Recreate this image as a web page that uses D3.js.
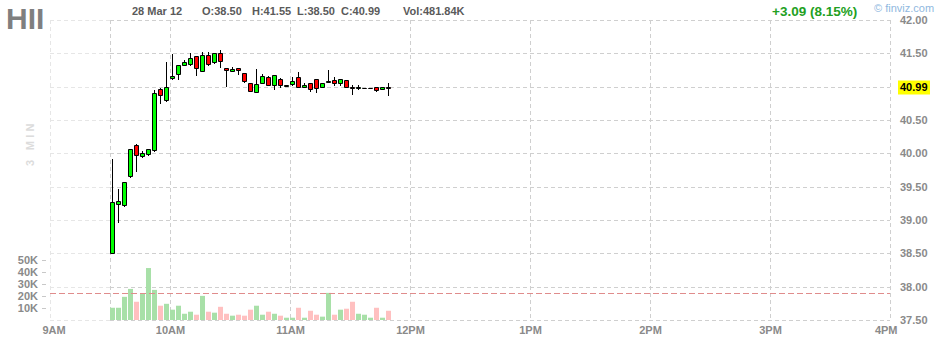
<!DOCTYPE html>
<html><head><meta charset="utf-8">
<script src="https://cdn.jsdelivr.net/npm/d3@7/dist/d3.min.js"></script>
<style>
body{margin:0;background:#fff}
svg{display:block;font-family:"Liberation Sans",Arial,Helvetica,sans-serif}
</style>
</head><body>
<svg id="c" width="940" height="340"></svg>
<script>
// ---------- data ----------
const ticker = "HII";
const intervalLabel = "3 MIN";
const dateLabel = "28 Mar 12";
const quoteLabels = ["O:38.50", "H:41.55", "L:38.50", "C:40.99"];
const volLabel = "Vol:481.84K";
const changeLabel = "+3.09 (8.15%)";
const brandLabel = "\u00a9 finviz.com";
const lastPrice = 40.99;
const prevClose = 37.90;

const times = ["9:30","9:33","9:36","9:39","9:42","9:45","9:48","9:51","9:54","9:57",
  "10:00","10:03","10:06","10:09","10:12","10:15","10:18","10:21","10:24","10:27",
  "10:30","10:33","10:36","10:39","10:42","10:45","10:48","10:51","10:54","10:57",
  "11:00","11:03","11:06","11:09","11:12","11:15","11:18","11:21","11:24","11:27",
  "11:30","11:33","11:36","11:39","11:42","11:45","11:48"];
const open  = [38.50,39.24,39.22,39.66,40.13,39.96,39.99,40.05,40.97,40.80,
  41.13,41.19,41.32,41.34,41.46,41.23,41.47,41.37,41.50,41.28,
  41.23,41.28,41.21,41.06,40.92,41.05,41.14,41.02,41.12,41.01,
  41.04,41.14,40.99,41.06,41.11,40.99,41.08,41.10,41.05,41.10,
  41.00,40.99,40.98,40.98,40.99,40.96,41.00];
const high  = [39.92,39.47,39.57,40.07,40.14,40.04,40.06,40.95,40.98,41.37,
  41.49,41.33,41.40,41.50,41.46,41.52,41.52,41.50,41.55,41.28,
  41.29,41.28,41.21,41.06,41.26,41.19,41.16,41.17,41.13,41.03,
  41.14,41.22,41.06,41.06,41.11,41.06,41.25,41.14,41.11,41.10,
  41.03,41.02,40.98,40.98,40.99,41.00,41.06];
const low   = [38.50,38.97,39.21,39.65,39.73,39.95,39.98,40.04,40.76,40.79,
  41.12,41.12,41.32,41.33,41.17,41.23,41.33,41.36,41.30,41.01,
  41.23,41.19,41.07,40.93,40.92,41.05,41.02,40.97,40.99,41.01,
  41.03,41.00,40.99,40.93,40.92,40.99,41.07,41.02,41.02,40.99,
  40.89,40.96,40.98,40.98,40.93,40.96,40.87];
const close = [39.27,39.28,39.57,40.06,39.97,40.01,40.06,40.91,40.87,41.00,
  41.16,41.32,41.37,41.43,41.28,41.47,41.34,41.50,41.38,41.25,
  41.27,41.25,41.08,40.93,41.04,41.16,41.02,41.17,41.02,41.03,
  41.09,41.00,41.03,40.96,40.98,41.06,41.09,41.05,41.11,40.99,
  40.98,41.00,40.98,40.98,40.95,40.99,40.99];
const volume = [10200,10200,19300,25900,15200,22100,43300,25100,11900,13500,
  8600,11900,5200,6900,4400,20100,6900,6100,11000,5200,
  3600,4400,3600,8600,11900,4400,6900,5200,3600,1900,
  1900,10200,1900,7700,4400,2800,22600,4400,8600,9400,
  15200,5200,4400,1900,10200,1900,7700];

const priceTicks = [37.5,38.0,38.5,39.0,39.5,40.0,40.5,41.0,41.5,42.0];
const hourTicks = ["9:00","10:00","11:00","12:00","13:00","14:00","15:00","16:00"];
const hourLabels = ["9AM","10AM","11AM","12PM","1PM","2PM","3PM","4PM"];
const openTime = "9:30";
const volTicks = [10000,20000,30000,40000,50000];

// ---------- setup ----------
const svg = d3.select("#c");
const parse = d3.timeParse("%H:%M");
const L = 50, R = 890, T = 20, B = 320;
const x = d3.scaleTime().domain([parse("9:00"), parse("16:00")]).range([L, R]);
const y = d3.scaleLinear().domain([37.5, 42]).range([B, T]);
const v = d3.scaleLinear().domain([0, 50000]).range([B, B - 60]);
const step = x(parse("9:33")) - x(parse("9:30"));
const bars = times.map((t, i) => ({t: parse(t), o: open[i], h: high[i], l: low[i], c: close[i], vol: volume[i]}));
const greyTxt = "#8a8a8a";
const sessionX = Math.round(x(parse(openTime)));

// ---------- grid ----------
const grid = svg.append("g").attr("fill", "none").attr("stroke-dasharray", "4,3");
priceTicks.forEach(p => {
  const yy = Math.round(y(p)) + 0.5;
  grid.append("line").attr("x1", L).attr("x2", sessionX).attr("y1", yy).attr("y2", yy).attr("stroke", "#e6e6e6");
  grid.append("line").attr("x1", sessionX).attr("x2", R).attr("y1", yy).attr("y2", yy).attr("stroke", "#cfcfcf");
});
[openTime].concat(hourTicks).forEach(h => {
  const xx = Math.round(x(parse(h))) + 0.5;
  grid.append("line").attr("x1", xx).attr("x2", xx).attr("y1", T).attr("y2", B)
    .attr("stroke", h === "9:00" ? "#e6e6e6" : "#cfcfcf");
});

// ---------- volume ----------
svg.append("g").selectAll("rect").data(bars).join("rect")
  .attr("x", d => Math.round(x(d.t)))
  .attr("width", Math.round(step) - 1)
  .attr("y", d => v(d.vol))
  .attr("height", d => B - v(d.vol))
  .attr("fill", d => d.c >= d.o ? "#a8e0a8" : "#ffc0c0");

// prev close line
svg.append("line").attr("x1", L).attr("x2", R)
  .attr("y1", Math.round(y(prevClose)) + 0.5).attr("y2", Math.round(y(prevClose)) + 0.5)
  .attr("stroke", "#e08c8c").attr("stroke-dasharray", "6,3");

// ---------- candles ----------
const cg = svg.append("g");
const cw = Math.round(step) - 2; // body inner width
bars.forEach(d => {
  const x0 = Math.round(x(d.t)) + 0.5;
  const xc = x0 + cw / 2;
  const yh = Math.round(y(d.h)), yl = Math.round(y(d.l));
  const yt = Math.round(y(Math.max(d.o, d.c))), yb = Math.round(y(Math.min(d.o, d.c)));
  cg.append("line").attr("x1", xc).attr("x2", xc).attr("y1", yh).attr("y2", yl + 1)
    .attr("stroke", "#000").attr("stroke-width", 1);
  const hgt = Math.max(yb - yt, d.o === d.c ? 0 : 1);
  cg.append("path")
    .attr("d", `M${x0},${yt + 0.5}h${cw}v${hgt}h${-cw}Z`)
    .attr("fill", d.c >= d.o ? "#00ff00" : "#ff0000")
    .attr("stroke", "#000").attr("stroke-width", 1);
});

// ---------- axes ----------
const ya = svg.append("g").attr("transform", `translate(${R},0)`)
  .call(d3.axisRight(y).tickValues(priceTicks).tickFormat(d3.format(".2f")).tickSize(0).tickPadding(10));
ya.select(".domain").remove();
ya.selectAll("text").attr("fill", greyTxt).attr("font-size", 11).attr("font-weight", "bold")
  .attr("font-family", "'Liberation Sans',Arial,sans-serif");

// last price badge
const ly = y(lastPrice);
svg.append("rect").attr("x", 898).attr("y", Math.round(ly) - 6.5).attr("width", 32).attr("height", 14).attr("fill", "#ffff00");
svg.append("text").attr("x", 900).attr("y", ly).attr("dy", "0.34em").attr("font-size", 11).attr("font-weight", "bold")
  .attr("fill", "#000").text(d3.format(".2f")(lastPrice));

const xa = svg.append("g").attr("transform", `translate(0,${B})`)
  .call(d3.axisBottom(x).tickValues(hourTicks.map(parse)).tickFormat((d, i) => hourLabels[i]).tickSize(0).tickPadding(6));
xa.select(".domain").remove();
xa.selectAll("text").attr("fill", greyTxt).attr("font-size", 11).attr("font-weight", "bold")
  .attr("font-family", "'Liberation Sans',Arial,sans-serif");
const xt = xa.selectAll("text").nodes();
d3.select(xt[0]).attr("text-anchor", "start").attr("x", -8);
d3.select(xt[xt.length - 1]).attr("text-anchor", "end").attr("x", 7);

const va = svg.append("g").attr("transform", `translate(46,0)`)
  .call(d3.axisLeft(v).tickValues(volTicks).tickFormat(d => d / 1000 + "K").tickSize(4).tickPadding(4));
va.select(".domain").remove();
va.selectAll("line").attr("stroke", "#c8c8c8");
va.selectAll("text").attr("fill", greyTxt).attr("font-size", 11).attr("font-weight", "bold")
  .attr("font-family", "'Liberation Sans',Arial,sans-serif");

// ---------- header ----------
svg.append("text").attr("x", 6).attr("y", 29).attr("font-size", 30).attr("font-weight", "bold")
  .attr("fill", "#7f7f7f").text(ticker);
svg.append("text").attr("transform", "translate(34,166) rotate(-90)").attr("font-size", 11).attr("font-weight", "bold")
  .attr("letter-spacing", 3.3).attr("fill", "#dcdcdc").text(intervalLabel);
const hdr = svg.append("g").attr("font-size", 11).attr("font-weight", "bold").attr("fill", "#5a5a5a");
hdr.append("text").attr("x", 132).attr("y", 15).text(dateLabel);
const qx = [202, 252, 297, 341];
quoteLabels.forEach((q, i) => hdr.append("text").attr("x", qx[i]).attr("y", 15).text(q));
hdr.append("text").attr("x", 403).attr("y", 15).text(volLabel);
svg.append("text").attr("x", 772).attr("y", 15.5).attr("font-size", 13.5).attr("font-weight", "bold")
  .attr("fill", "#22a022").text(changeLabel);
svg.append("text").attr("x", 874).attr("y", 12).attr("font-size", 11)
  .attr("fill", "#8fb8e0").text(brandLabel);
</script>
</body></html>
